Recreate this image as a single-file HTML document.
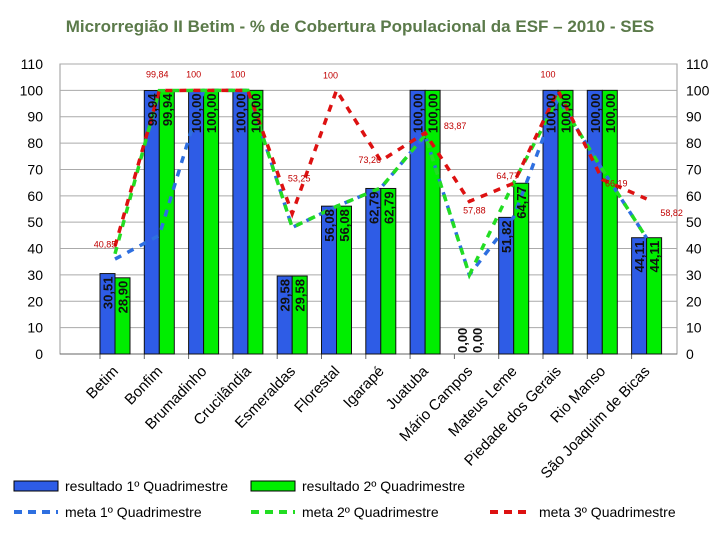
<!DOCTYPE html>
<html><head><meta charset="utf-8"><style>
body{margin:0;background:#fff;width:720px;height:540px;overflow:hidden;font-family:"Liberation Sans",sans-serif}
</style></head><body>
<svg id="c" width="720" height="540" xmlns="http://www.w3.org/2000/svg">
<text x="360" y="32" text-anchor="middle" font-size="17" font-weight="bold" fill="#5b7a4a">Microrregião II Betim - % de Cobertura Populacional da ESF – 2010 - SES</text>
<rect x="60" y="64" width="617" height="290" fill="#fff" stroke="#999"/>
<g id="grid"></g><g id="bars"></g><g id="lines"></g><g id="labels"></g>
<g font-size="14" fill="#000">
<rect x="14" y="481" width="44" height="10" fill="#2e5ce6" stroke="#000"/>
<text x="65" y="491">resultado 1º Quadrimestre</text>
<rect x="251" y="481" width="44" height="10" fill="#00ee00" stroke="#000"/>
<text x="302" y="491">resultado 2º Quadrimestre</text>
<line x1="14" y1="512" x2="58" y2="512" stroke="#2e6fe0" stroke-width="4" stroke-dasharray="8,6"/>
<text x="65" y="517">meta 1º Quadrimestre</text>
<line x1="251" y1="512" x2="295" y2="512" stroke="#22dd22" stroke-width="4" stroke-dasharray="8,6"/>
<text x="302" y="517">meta 2º Quadrimestre</text>
<line x1="490" y1="512" x2="532" y2="512" stroke="#dd1111" stroke-width="4" stroke-dasharray="8,6"/>
<text x="539" y="517">meta 3º Quadrimestre</text>
</g>
</svg>
<script>
const categories=["Betim","Bonfim","Brumadinho","Crucilândia","Esmeraldas","Florestal","Igarapé","Juatuba","Mário Campos","Mateus Leme","Piedade dos Gerais","Rio Manso","São Joaquim de Bicas"];
const res1=[30.51,99.94,100,100,29.58,56.08,62.79,100,0,51.82,100,100,44.11];
const res2=[28.90,99.94,100,100,29.58,56.08,62.79,100,0,64.77,100,100,44.11];
const meta1=[36,45,100,100,48,56,63,83,30,52,97,70,44];
const meta2=[38,99.9,100,100,48,56,63,83,30,65,97,70,44];
const meta3=[40.85,99.94,100,100,53.25,100,73.26,83.87,57.88,64.77,100,66.19,58.82];
const meta3Labels=["40,85","99,84","100","100","53,25","100","73,26","83,87","57,88","64,77","100","66,19","58,82"];
const yTicks=[0,10,20,30,40,50,60,70,80,90,100,110];
const NS="http://www.w3.org/2000/svg";
const X0=100,SLOT=44.3,BW=15,Y0=354,PX=290/110;
const y=v=>Y0-v*PX, xs=i=>X0+i*SLOT, xc=i=>xs(i)+BW;
function mk(t,a,p){const e=document.createElementNS(NS,t);for(const k in a)e.setAttribute(k,a[k]);p.appendChild(e);return e;}
const G=document.getElementById('grid'),B=document.getElementById('bars'),L=document.getElementById('lines'),T=document.getElementById('labels');
yTicks.forEach(v=>{
 const g=mk('line',{x1:60,x2:677,y1:y(v),y2:y(v),stroke:v==0?'#666':'#aaa'},G);
 
 
 const a=mk('text',{x:43,y:y(v)+5,'text-anchor':'end','font-size':14},G);a.textContent=v;
 
 
 const b=mk('text',{x:686,y:y(v)+5,'font-size':14},G);b.textContent=v;
 
 
});
const fmt=v=>v.toFixed(2).replace('.',',');
categories.forEach((c,i)=>{
 const tk=mk('line',{x1:xs(i),x2:xs(i),y1:354,y2:359,stroke:'#666'},G);
 
 
 [[res1,'#2e5ce6',0],[res2,'#00ee00',1]].forEach(([arr,col,k])=>{
  const x=xs(i)+k*BW,v=arr[i];
  const r=mk('rect',{x:x,y:y(v),width:BW,height:Y0-y(v),fill:col,stroke:'#111','stroke-width':1},B);
  
  
  const tx=x+BW/2+5,ty=y(v)+3;
  const t=mk('text',{x:tx,y:ty,'text-anchor':'end','font-size':13,'font-weight':'bold',fill:'#111',transform:`rotate(-90 ${tx} ${ty})`},T);
  t.textContent=fmt(v);
  if(v<5){t.setAttribute('transform',`rotate(-90 ${tx} ${ty-4})`);t.setAttribute('y',ty-4);t.setAttribute('text-anchor','start');}
  
  
 });
 const lx=xc(i)+4,ly=372;
 const cl=mk('text',{x:lx,y:ly,'text-anchor':'end','font-size':15,transform:`rotate(-46 ${lx} ${ly})`},T);
 cl.textContent=c;
 
 
});
[[meta1,'#2e6fe0','meta-1'],[meta2,'#22dd22','meta-2'],[meta3,'#dd1111','meta-3']].forEach(([arr,col,n])=>{
 const p=mk('polyline',{points:arr.map((v,i)=>xc(i)+','+y(v)).join(' '),fill:'none',stroke:col,'stroke-width':3.5,'stroke-dasharray':'7,7'},L);
 
 
});
const lblDx=[-10,-2,-10,-10,7,-6,-11,30,5,-6,-10,14,25];
const lblDy=[1,-13,-13,-13,-32,-12,2,-4,12,-4,-13,7,17];
meta3.forEach((v,i)=>{
 const t=mk('text',{x:xc(i)+lblDx[i],y:y(v)+lblDy[i],'text-anchor':'middle','font-size':9,fill:'#c00000'},T);
 t.textContent=meta3Labels[i];
 
 
});
</script>
</body></html>
